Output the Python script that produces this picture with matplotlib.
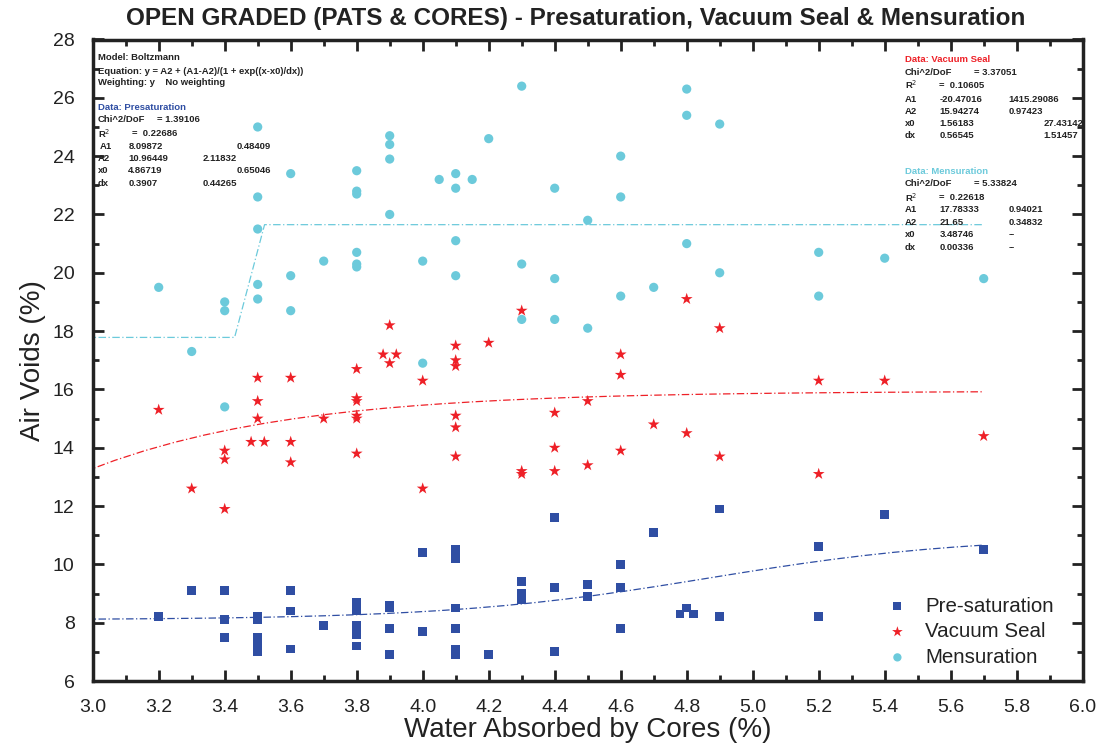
import numpy as np
import matplotlib
matplotlib.use("Agg")
import matplotlib.pyplot as plt
from matplotlib.ticker import MultipleLocator

# ---------------- data ----------------
pre_x = [3.2, 3.3, 3.4, 3.4, 3.4, 3.5, 3.5, 3.5, 3.5, 3.5, 3.5, 3.6, 3.6, 3.6, 3.7,
         3.8, 3.8, 3.8, 3.8, 3.8, 3.8, 3.9, 3.9, 3.9, 3.9, 4.0, 4.0,
         4.1, 4.1, 4.1, 4.1, 4.1, 4.1, 4.1, 4.2, 4.3, 4.3, 4.3, 4.3,
         4.4, 4.4, 4.4, 4.5, 4.5, 4.6, 4.6, 4.6, 4.7, 4.78, 4.8, 4.82,
         4.9, 4.9, 5.2, 5.2, 5.4, 5.7]
pre_y = [8.2, 9.1, 9.1, 8.1, 7.5, 8.2, 8.1, 7.5, 7.2, 7.1, 7.0, 9.1, 8.4, 7.1, 7.9,
         8.7, 8.5, 8.4, 7.9, 7.6, 7.2, 8.6, 8.5, 7.8, 6.9, 10.4, 7.7,
         10.5, 10.2, 8.5, 7.8, 7.1, 7.0, 6.9, 6.9, 9.4, 9.0, 8.9, 8.8,
         11.6, 9.2, 7.0, 9.3, 8.9, 10.0, 9.2, 7.8, 11.1, 8.3, 8.5, 8.3,
         11.9, 8.2, 10.6, 8.2, 11.7, 10.5]

vac_x = [3.2, 3.3, 3.4, 3.4, 3.4, 3.5, 3.5, 3.5, 3.48, 3.52, 3.6, 3.6, 3.6, 3.7,
         3.8, 3.8, 3.8, 3.8, 3.8, 3.8, 3.88, 3.92, 3.9, 3.9, 4.0, 4.0,
         4.1, 4.1, 4.1, 4.1, 4.1, 4.1, 4.2, 4.3, 4.3, 4.3, 4.4, 4.4, 4.4,
         4.5, 4.5, 4.6, 4.6, 4.6, 4.7, 4.8, 4.8, 4.9, 4.9, 5.2, 5.2, 5.4, 5.7]
vac_y = [15.3, 12.6, 13.9, 13.6, 11.9, 16.4, 15.6, 15.0, 14.2, 14.2, 16.4, 14.2, 13.5, 15.0,
         16.7, 15.7, 15.6, 15.1, 15.0, 13.8, 17.2, 17.2, 18.2, 16.9, 16.3, 12.6,
         17.5, 17.0, 16.8, 15.1, 14.7, 13.7, 17.6, 18.7, 13.2, 13.1, 15.2, 14.0, 13.2,
         15.6, 13.4, 17.2, 16.5, 13.9, 14.8, 19.1, 14.5, 18.1, 13.7, 16.3, 13.1, 16.3, 14.4]

men_x = [3.2, 3.3, 3.4, 3.4, 3.4, 3.5, 3.5, 3.5, 3.5, 3.5, 3.6, 3.6, 3.6, 3.7,
         3.8, 3.8, 3.8, 3.8, 3.8, 3.8, 3.9, 3.9, 3.9, 3.9, 4.0, 4.0,
         4.05, 4.15, 4.1, 4.1, 4.1, 4.1, 4.2, 4.3, 4.3, 4.3, 4.4, 4.4, 4.4,
         4.5, 4.5, 4.6, 4.6, 4.6, 4.7, 4.8, 4.8, 4.8, 4.9, 4.9, 5.2, 5.2, 5.4, 5.7]
men_y = [19.5, 17.3, 19.0, 18.7, 15.4, 25.0, 22.6, 21.5, 19.6, 19.1, 23.4, 19.9, 18.7, 20.4,
         23.5, 22.8, 22.7, 20.7, 20.3, 20.2, 24.7, 24.4, 23.9, 22.0, 20.4, 16.9,
         23.2, 23.2, 23.4, 22.9, 21.1, 19.9, 24.6, 26.4, 20.3, 18.4, 22.9, 19.8, 18.4,
         21.8, 18.1, 24.0, 22.6, 19.2, 19.5, 26.3, 25.4, 21.0, 25.1, 20.0, 20.7, 19.2, 20.5, 19.8]

# Boltzmann fit parameters (A1, A2, x0, dx)
pre_fit = [8.09872, 10.96449, 4.86719, 0.3907]
vac_fit = [-20.47016, 15.94274, 1.56183, 0.56545]
men_fit = [17.78333, 21.65, 3.48746, 0.00336]

x_ticks = [3.0, 3.2, 3.4, 3.6, 3.8, 4.0, 4.2, 4.4, 4.6, 4.8, 5.0, 5.2, 5.4, 5.6, 5.8, 6.0]
y_ticks = [6, 8, 10, 12, 14, 16, 18, 20, 22, 24, 26, 28]

C_BLUE = "#2f4ea3"
C_RED = "#ee2027"
C_CYAN = "#6ccadb"


def boltzmann(x, p):
    A1, A2, x0, dx = p
    z = np.clip((x - x0) / dx, -700, 700)
    return A2 + (A1 - A2) / (1 + np.exp(z))


plt.rcParams['font.family'] = ['Liberation Sans', 'DejaVu Sans']

W, H = 1100, 751
fig = plt.figure(figsize=(W / 100, H / 100), dpi=100)
L, R, B, T = 92.7, 1082.7, 681.0, 39.5
ax = fig.add_axes([L / W, 1 - B / H, (R - L) / W, (B - T) / H])

xf = np.linspace(2.976, 5.7, 31)
ax.plot(xf, boltzmann(xf, pre_fit), color=C_BLUE, lw=0.9, ls=(0, (6, 2, 1, 2)), zorder=2)
ax.plot(xf, boltzmann(xf, vac_fit), color=C_RED, lw=0.9, ls=(0, (6, 2, 1, 2)), zorder=2)
ax.plot(xf, boltzmann(xf, men_fit), color=C_CYAN, lw=0.9, ls=(0, (6, 2, 1, 2)), zorder=2)

ax.scatter(pre_x, pre_y, marker='s', s=40, color=C_BLUE, edgecolors='none', zorder=3, label='Pre-saturation')
ax.scatter(vac_x, vac_y, marker='*', s=80, color=C_RED, edgecolors='none', zorder=3, label='Vacuum Seal')
ax.scatter(men_x, men_y, marker='o', s=44, color=C_CYAN, edgecolors='none', zorder=3, label='Mensuration')

ax.set_xlim(3.0, 6.0)
ax.set_ylim(6, 28)
ax.set_xticks(x_ticks)
ax.set_yticks(y_ticks)
ax.set_xticklabels([f"{v:.1f}" for v in x_ticks])
ax.set_yticklabels([str(v) for v in y_ticks])
ax.xaxis.set_minor_locator(MultipleLocator(0.1))
ax.yaxis.set_minor_locator(MultipleLocator(1))
ax.tick_params(which='both', direction='in', top=True, right=True, width=2, color='#222222',
               labelsize=14, labelcolor='#222222')
ax.tick_params(axis='x', which='major', pad=13)
ax.tick_params(axis='y', which='major', pad=13)
ax.tick_params(which='major', length=8)
ax.tick_params(which='minor', length=4)
for s in ax.spines.values():
    s.set_linewidth(2.5)
    s.set_color('#222222')

ax.set_xlabel("Water Absorbed by Cores (%)", fontsize=20, color='#222222', labelpad=1)
ax.set_ylabel("Air Voids (%)", fontsize=20, color='#222222', labelpad=5)

fig.text(576 / W, 1 - 18 / H, "OPEN GRADED (PATS & CORES) - Presaturation, Vacuum Seal & Mensuration",
         ha='center', va='center', fontsize=17.5, fontweight='bold', color='#222222')

leg = ax.legend(loc='lower right', bbox_to_anchor=((1062 - L) / (R - L), (B - 675) / (B - T)),
                frameon=False, fontsize=14.8, handletextpad=0.35, labelspacing=0.32,
                borderaxespad=0, scatterpoints=1, markerscale=0.9)
for t in leg.get_texts():
    t.set_color('#222222')


def ptext(x, y, s, color='#222222', **kw):
    fig.text(x / W, 1 - y / H, s, fontsize=6.8, fontweight='bold', color=color,
             ha='left', va='center', **kw)


# left stats box
ptext(98, 58, "Model: Boltzmann")
ptext(98, 71, "Equation: y = A2 + (A1-A2)/(1 + exp((x-x0)/dx))")
ptext(98, 82.5, "Weighting: y    No weighting")
ptext(98, 108, "Data: Presaturation", color=C_BLUE)
ptext(98, 119, "Chi^2/DoF")
ptext(157, 119, "= 1.39106")
ptext(98, 133.5, "R$^2$")
ptext(131.5, 133.5, "=  0.22686")
rows_l = [("A1", "8.09872", "0.48409", 236.7), ("A2", "10.96449", "2.11832", 202.7),
          ("x0", "4.86719", "0.65046", 236.7), ("dx", "0.3907", "0.44265", 202.7)]
for i, (n, v, e, ex) in enumerate(rows_l):
    yy = 146.3 + i * 12.3
    ptext(99.3 if n == "A1" else 98, yy, n)
    ptext(128.3, yy, v)
    ptext(ex, yy, e)

# vacuum seal box
ptext(905, 60, "Data: Vacuum Seal", color=C_RED)
ptext(905, 72.3, "Chi^2/DoF")
ptext(974, 72.3, "= 3.37051")
ptext(905, 85, "R$^2$")
ptext(939, 85, "=  0.10605")
rows_v = [("A1", "-20.47016", "1415.29086", 1008.3), ("A2", "15.94274", "0.97423", 1008.3),
          ("x0", "1.56183", "27.43142", 1043.3), ("dx", "0.56545", "1.51457", 1043.3)]
for i, (n, v, e, ex) in enumerate(rows_v):
    yy = 99 + i * 12.2
    ptext(905, yy, n)
    ptext(939.3, yy, v)
    ptext(ex, yy, e)

# mensuration box
ptext(905, 171.7, "Data: Mensuration", color=C_CYAN)
ptext(905, 184, "Chi^2/DoF")
ptext(974, 184, "= 5.33824")
ptext(905, 197.7, "R$^2$")
ptext(939, 197.7, "=  0.22618")
rows_m = [("A1", "17.78333", "0.94021"), ("A2", "21.65", "0.34832"),
          ("x0", "3.48746", "--"), ("dx", "0.00336", "--")]
for i, (n, v, e) in enumerate(rows_m):
    yy = 210 + i * 12.4
    ptext(905, yy, n)
    ptext(939.3, yy, v)
    ptext(1008.3, yy, e)

fig.savefig("out.png", dpi=100)
